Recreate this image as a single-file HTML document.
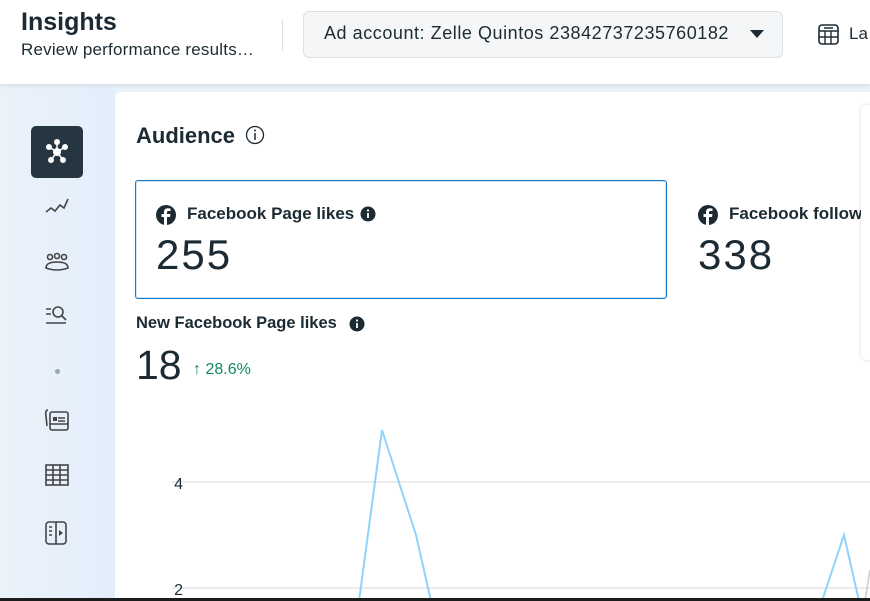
<!DOCTYPE html>
<html><head><style>
*{margin:0;padding:0;box-sizing:border-box}
html,body{width:870px;height:601px;overflow:hidden}
body{font-family:"Liberation Sans",sans-serif;background:#e9f1fa;position:relative;color:#1c2b33}
.hdr{position:absolute;left:0;top:0;width:870px;height:84px;background:#fff;box-shadow:0 2px 4px rgba(0,0,0,.08)}
.abs{position:absolute;white-space:nowrap}
.card{position:absolute;left:115px;top:92px;width:760px;height:509px;background:#fff;border-radius:6px 6px 0 0}
.side{position:absolute;left:0;top:86px;width:115px;height:515px;background:linear-gradient(90deg,#eaf2fa,#e4eefb)}
</style></head><body>
<div class="side"></div>
<div class="hdr">
<div class="abs" style="left:21px;top:8px;font-size:25px;font-weight:bold">Insights</div>
<div class="abs" style="left:21px;top:40px;font-size:17px;color:#1c2b33;letter-spacing:0.2px">Review performance results…</div>
<div class="abs" style="left:282px;top:19px;width:1px;height:32px;background:#dde1e5"></div>
<div class="abs" style="left:303px;top:11px;width:480px;height:47px;background:#f5f6f7;border:1px solid #dde1e5;border-radius:6px"></div>
<div class="abs" style="left:324px;top:23px;font-size:18px;letter-spacing:0.55px">Ad account: Zelle Quintos 23842737235760182</div>
<div class="abs" style="left:750px;top:30px;width:0;height:0;border-left:7px solid transparent;border-right:7px solid transparent;border-top:8px solid #1c2b33"></div>
<svg class="abs" style="left:818px;top:24px" width="22" height="22"><rect x="1" y="1" width="19" height="19" rx="3" fill="none" stroke="#1c2b33" stroke-width="1.6"/><path d="M1 7H20M1 13H20M7 7V20M13 7V20M6 4H15" stroke="#1c2b33" stroke-width="1.4"/></svg>
<div class="abs" style="left:849px;top:24px;font-size:17px">La</div>
</div>
<div class="card"></div>
<div class="abs" style="left:861px;top:105px;width:20px;height:255px;background:#fff;box-shadow:0 0 4px rgba(0,0,0,.15);border-radius:6px"></div>
<div class="abs" style="left:31px;top:126px;width:52px;height:52px;background:#263641;border-radius:5px"></div>
<svg class="abs" style="left:42px;top:137px" width="30" height="30"><g fill="#fff"><circle cx="15" cy="15" r="4"/><circle cx="7" cy="10" r="3"/><circle cx="23" cy="10" r="3"/><circle cx="15" cy="5" r="3"/><circle cx="9" cy="23" r="3"/><circle cx="21" cy="23" r="3"/></g><path d="M15 15L7 10M15 15L23 10M15 15L15 5M15 15L9 23M15 15L21 23" stroke="#fff" stroke-width="1.5"/></svg>
<svg class="abs" style="left:44px;top:196px" width="26" height="22"><path d="M2 16L7 12L11 15L16 9L20 12L24 3" fill="none" stroke="#444" stroke-width="1.6"/></svg>
<svg class="abs" style="left:44px;top:252px" width="26" height="22"><g fill="none" stroke="#444" stroke-width="1.6"><circle cx="6" cy="5" r="2.5"/><circle cx="13" cy="4" r="2.5"/><circle cx="20" cy="5" r="2.5"/><path d="M2 16Q2 10 13 10Q24 10 24 16Q13 20 2 16Z"/></g></svg>
<svg class="abs" style="left:44px;top:304px" width="26" height="22"><g fill="none" stroke="#444" stroke-width="1.6"><path d="M2 5H7M2 10H7M2 19H22"/><circle cx="14" cy="8" r="5"/><path d="M18 12L22 16"/></g></svg>
<div class="abs" style="left:55px;top:369px;width:5px;height:5px;border-radius:50%;background:#9aa"></div>
<svg class="abs" style="left:44px;top:406px" width="28" height="26"><g fill="none" stroke="#444" stroke-width="1.6"><path d="M4 4Q1 4 2 10L3 20"/><rect x="6" y="6" width="18" height="18" rx="2"/><path d="M14 12H21M14 15H21M6 18H24"/></g><rect x="9" y="11" width="4" height="4" fill="#444"/></svg>
<svg class="abs" style="left:44px;top:463px" width="26" height="24"><g fill="none" stroke="#444" stroke-width="1.6"><rect x="2" y="2" width="22" height="20"/><path d="M2 7H24M2 12H24M2 17H24M9 2V22M16 2V22"/></g></svg>
<svg class="abs" style="left:44px;top:520px" width="26" height="26"><g fill="none" stroke="#444" stroke-width="1.6"><rect x="2" y="2" width="20" height="22" rx="3"/><path d="M12 2V24M5 7H8M5 11H8M5 15H8"/></g><path d="M15 10L19 13L15 16Z" fill="#444"/></svg>
<div class="abs" style="left:136px;top:123px;font-size:22px;font-weight:bold">Audience</div>
<svg class="abs" style="left:245px;top:125px" width="20" height="20"><circle cx="10" cy="10" r="8.5" fill="none" stroke="#1c2b33" stroke-width="1.3"/><path d="M10 8V15" stroke="#1c2b33" stroke-width="1.5"/><circle cx="10" cy="5.5" r="1" fill="#1c2b33"/></svg>
<div class="abs" style="left:135px;top:180px;width:532px;height:119px;border:1px solid #1877c9;border-radius:3px;box-shadow:0 0 0 1px #cfe3f5 inset"></div>
<svg class="abs" style="left:155px;top:204px" width="22" height="22"><circle cx="11" cy="11" r="10" fill="#1c2b33"/><path d="M12 21V13H15L15.5 10H12V8.5Q12 7 13.5 7H15.5V4.5Q14 4.3 13 4.3Q9 4.3 9 8V10H6.5V13H9V21Z" fill="#fff"/></svg>
<div class="abs" style="left:187px;top:204px;font-size:17px;font-weight:bold">Facebook Page likes</div>
<svg class="abs" style="left:360px;top:206px" width="16" height="16"><circle cx="8" cy="8" r="7.5" fill="#1c2b33"/><path d="M8 7V12" stroke="#fff" stroke-width="1.8"/><circle cx="8" cy="4.5" r="1.1" fill="#fff"/></svg>
<div class="abs" style="left:156px;top:231px;font-size:42px;letter-spacing:2px">255</div>
<svg class="abs" style="left:697px;top:204px" width="22" height="22"><circle cx="11" cy="11" r="10" fill="#1c2b33"/><path d="M12 21V13H15L15.5 10H12V8.5Q12 7 13.5 7H15.5V4.5Q14 4.3 13 4.3Q9 4.3 9 8V10H6.5V13H9V21Z" fill="#fff"/></svg>
<div class="abs" style="left:729px;top:204px;font-size:17px;font-weight:bold;width:132px;overflow:hidden">Facebook followers</div>
<div class="abs" style="left:698px;top:231px;font-size:42px;letter-spacing:2px">338</div>
<div class="abs" style="left:136px;top:314px;font-size:16.5px;font-weight:bold">New Facebook Page likes</div>
<svg class="abs" style="left:349px;top:316px" width="16" height="16"><circle cx="8" cy="8" r="7.5" fill="#1c2b33"/><path d="M8 7V12" stroke="#fff" stroke-width="1.8"/><circle cx="8" cy="4.5" r="1.1" fill="#fff"/></svg>
<div class="abs" style="left:136px;top:342px;font-size:41px">18</div>
<div class="abs" style="left:193px;top:361px;font-size:16px;color:#108a5a">↑ 28.6%</div>
<svg class="abs" style="left:0;top:0" width="870" height="601">
<path d="M172 482H870M172 588H870" stroke="#d8dadd" stroke-width="1"/>
<text x="183" y="489" font-size="16" text-anchor="end" fill="#1c2b33" font-family="Liberation Sans">4</text>
<text x="183" y="595" font-size="16" text-anchor="end" fill="#1c2b33" font-family="Liberation Sans">2</text>
<path d="M359 601L382 430L416 535L431 601M822 601L844 535L859 601" fill="none" stroke="#8fd3fc" stroke-width="2"/>
<path d="M865 601L870 570" stroke="#ccc" stroke-width="1.5"/>
<rect x="0" y="598" width="870" height="3" fill="#1c1c1c"/>
</svg>
</body></html>
